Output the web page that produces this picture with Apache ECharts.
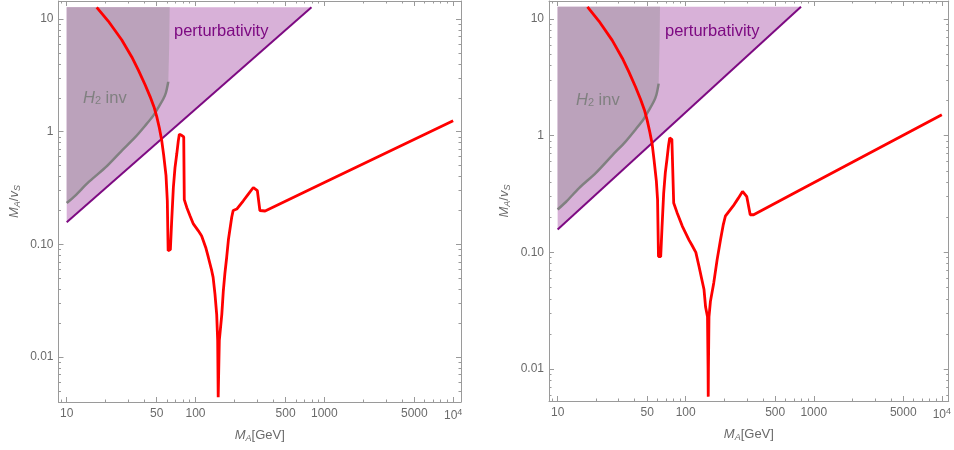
<!DOCTYPE html>
<html>
<head>
<meta charset="utf-8">
<script src="https://cdn.jsdelivr.net/npm/echarts@6/dist/echarts.min.js"></script>
<style>
  html, body { margin: 0; padding: 0; background: #fff; }
  #chart { width: 954px; height: 450px; }
</style>
</head>
<body>
<div id="chart"></div>
<script>
const xMajor = [10, 50, 100, 500, 1000, 5000, 10000];
const xLabels = ['10', '50', '100', '500', '1000', '5000', '{n|10}{sup|4}'];
const xMinor = [9, 20, 30, 40, 60, 70, 80, 90, 200, 300, 400, 600, 700, 800, 900,
  2000, 3000, 4000, 6000, 7000, 8000, 9000];
const yMajor = [0.01, 0.1, 1, 10];
const yLabels = ['0.01', '0.10', '1', '10'];
const yMinor = [0.004, 0.005, 0.006, 0.007, 0.008, 0.009,
  0.02, 0.03, 0.04, 0.05, 0.06, 0.07, 0.08, 0.09,
  0.2, 0.3, 0.4, 0.5, 0.6, 0.7, 0.8, 0.9,
  2, 3, 4, 5, 6, 7, 8, 9];

// perturbativity boundary and top of the shaded areas
const perturbX = [10, 795];
const perturbY = [0.157, 12.7];
const shadeTop = 12.7;

// H2 invisible boundary
const h2X = [10, 11.6, 14.7, 19.9, 26.7, 33.9, 40.6, 47, 51.4, 56.2, 59, 61.5];
const h2Y = [0.233, 0.27, 0.355, 0.48, 0.678, 0.89, 1.13, 1.39, 1.64, 1.95, 2.23, 2.79];
const h2EdgeX = [62.5, 63];
const h2EdgeY = [6, 12.7];

// red curve, left panel
const redLeftX = [17.1, 21, 26.7, 32, 36, 40.6, 44.4, 47.6, 50, 52.4, 54.7, 56.6, 59, 60.4, 61.3,
  63.8, 65.3, 67.3, 69.3, 71.5, 73.5, 74.9, 78, 81, 81.8,
  85.5, 90.6, 96.2, 105.2, 111.6, 115, 120, 125.7, 133.6, 137, 141.6, 146, 148.6, 150,
  153, 160, 164.4, 169, 174.6, 180, 191, 196, 209, 235, 257, 281, 302, 316, 347, 1000, 10000];
const redLeftY = [12.7, 9.6, 6.55, 4.61, 3.52, 2.61, 2.05, 1.66, 1.36, 1.08, 0.83, 0.62, 0.41, 0.244, 0.088,
  0.09, 0.162, 0.32, 0.48, 0.634, 0.83, 0.95, 0.93, 0.9, 0.25,
  0.213, 0.18, 0.152, 0.132, 0.119, 0.108, 0.094, 0.077, 0.0585, 0.051, 0.0363, 0.024, 0.014, 0.0044,
  0.014, 0.024, 0.0388, 0.055, 0.077, 0.11, 0.174, 0.2, 0.206, 0.244, 0.28, 0.32, 0.30, 0.2, 0.198, 0.355, 1.25];

// red curve, right panel
const redRightX = [17.1, 21, 26.7, 32, 36, 40.6, 44.4, 47.6, 50, 52.4, 54.7, 56.6, 59, 60.3, 61.3,
  63.8, 65.3, 67.3, 69.3, 71.5, 73.5, 75, 78, 80.2, 80.6,
  85.5, 94.2, 106, 112, 120, 127, 133, 139, 143, 148, 149.5, 150,
  150.5, 152, 156, 165.6, 176, 187, 196, 204, 235, 257, 278, 300, 319, 339, 755, 10000];
const redRightY = [12.7, 9.6, 6.55, 4.61, 3.52, 2.61, 2.05, 1.66, 1.36, 1.08, 0.85, 0.62, 0.41, 0.283, 0.092,
  0.092, 0.162, 0.32, 0.48, 0.634, 0.83, 0.955, 0.93, 0.9, 0.265,
  0.22, 0.167, 0.128, 0.115, 0.1, 0.076, 0.06, 0.048, 0.034, 0.028, 0.01, 0.0058,
  0.01, 0.028, 0.038, 0.0547, 0.0866, 0.128, 0.17, 0.204, 0.25, 0.29, 0.333, 0.30, 0.21, 0.21, 0.336, 1.51];

// ---- styling ----
const FONT = '"Liberation Sans", Arial, sans-serif';
const frameColor = '#9a9a9a';
const labelColor = '#6a6a6a';
const purpleFill = '#d8b1d8';
const grayFill = '#bba2bb';

const lg = Math.log10;
const pts = (xs, ys) => xs.map((x, i) => [lg(x), lg(ys[i])]);

const panels = [
  { left: 58.5, width: 402.5, top: 1, height: 401, xMin: 0.9363, xMax: 4.061, yMin: -2.398, yMax: 1.16,
    redX: redLeftX, redY: redLeftY },
  { left: 549, width: 403, top: 1, height: 400, xMin: 0.9326, xMax: 4.054, yMin: -2.274, yMax: 1.154,
    redX: redRightX, redY: redRightY }
];

const xMajorLog = xMajor.map(lg);
const yMajorLog = yMajor.map(lg);
const pick = (logs, labels) => (v) => {
  const i = logs.findIndex((l) => Math.abs(l - v) < 1e-6);
  return i < 0 ? '' : labels[i];
};

const grids = [];
const xAxes = [];
const yAxes = [];
const series = [];

function tickAxis(base, position, values, len, main) {
  return Object.assign({}, base, {
    position,
    axisLine: { show: main, onZero: false, lineStyle: { color: frameColor, width: 1 } },
    axisTick: { show: true, inside: true, length: len, customValues: values,
      lineStyle: { color: frameColor, width: 1 } },
    axisLabel: { show: false },
    splitLine: { show: false }
  });
}

const nameRich = {
  i: { color: labelColor, fontFamily: FONT, fontSize: 13, fontStyle: 'italic' },
  sub: { color: labelColor, fontFamily: FONT, fontSize: 9, fontStyle: 'italic', verticalAlign: 'bottom', padding: [6, 0, 0, 0] },
  n: { color: labelColor, fontFamily: FONT, fontSize: 13 }
};

panels.forEach((p, g) => {
  grids.push({ left: p.left, top: p.top, width: p.width, height: p.height });
  const xb = { type: 'value', gridIndex: g, min: p.xMin, max: p.xMax };
  const yb = { type: 'value', gridIndex: g, min: p.yMin, max: p.yMax };
  const xi = xAxes.length;
  const yi = yAxes.length;

  const xMain = tickAxis(xb, 'bottom', xMajorLog, 5, true);
  xMain.axisLabel = {
    show: true, customValues: xMajorLog, formatter: pick(xMajorLog, xLabels),
    color: labelColor, fontFamily: FONT, fontSize: 12, margin: 6,
    rich: {
      n: { color: labelColor, fontFamily: FONT, fontSize: 12 },
      sup: { color: labelColor, fontFamily: FONT, fontSize: 9, verticalAlign: 'top', padding: [0, 0, 6, 0] }
    }
  };
  xMain.name = '{i|M}{sub|A}{n|[GeV]}';
  xMain.nameLocation = 'middle';
  xMain.nameGap = 26;
  xMain.nameTextStyle = { rich: nameRich };
  xAxes.push(xMain,
    tickAxis(xb, 'bottom', xMinor.map(lg), 2.5, false),
    tickAxis(xb, 'top', xMajorLog, 5, true),
    tickAxis(xb, 'top', xMinor.map(lg), 2.5, false));

  const yMain = tickAxis(yb, 'left', yMajorLog, 5, true);
  yMain.axisLabel = {
    show: true, customValues: yMajorLog, formatter: pick(yMajorLog, yLabels),
    color: labelColor, fontFamily: FONT, fontSize: 12, margin: 5
  };
  yMain.name = '{i|M}{sub|A}{n|/}{i|v}{sub|S}';
  yMain.nameLocation = 'middle';
  yMain.nameGap = 37;
  yMain.nameRotate = 90;
  yMain.nameTextStyle = { rich: nameRich };
  yAxes.push(yMain,
    tickAxis(yb, 'left', yMinor.map(lg), 2.5, false),
    tickAxis(yb, 'right', yMajorLog, 5, true),
    tickAxis(yb, 'right', yMinor.map(lg), 2.5, false));

  // shaded areas as polygons through the axes
  const purplePoly = pts(perturbX, perturbY).concat([[lg(perturbX[0]), lg(shadeTop)]]);
  const grayPoly = pts(h2X, h2Y).concat(pts(h2EdgeX, h2EdgeY), [[lg(h2X[0]), lg(shadeTop)]]);
  [[purplePoly, purpleFill], [grayPoly, grayFill]].forEach(([poly, color]) => {
    series.push({
      type: 'custom', xAxisIndex: xi, yAxisIndex: yi, silent: true,
      data: [poly[0]],
      renderItem: (params, api) => ({
        type: 'polygon',
        shape: { points: poly.map((v) => api.coord(v)) },
        style: { fill: color }
      })
    });
  });

  const line = (data, color, width, smooth) => ({
    type: 'line', xAxisIndex: xi, yAxisIndex: yi, data, showSymbol: false, silent: true,
    smooth, lineStyle: { color, width }, animation: false
  });
  series.push(line(pts(perturbX, perturbY), '#7d0a82', 2, false));
  series.push(line(pts(h2X, h2Y), '#808080', 2.5, 0.3));
  series.push(line(pts(p.redX, p.redY), '#ff0000', 2.8, false));
});

const textStyle = (fill) => ({ fill, fontFamily: FONT, fontSize: 16.5, verticalAlign: 'middle' });
const graphic = [
  { type: 'text', x: 174, y: 31, z: 100, style: Object.assign(textStyle('#7d0a82'), { text: 'perturbativity' }) },
  { type: 'text', x: 665, y: 31, z: 100, style: Object.assign(textStyle('#7d0a82'), { text: 'perturbativity' }) }
];
[[83, 98], [576, 100]].forEach(([x, y]) => {
  graphic.push({
    type: 'text', x, y, z: 100,
    style: Object.assign(textStyle('#808080'), {
      text: '{i|H}{sub|2}{n| inv}',
      rich: {
        i: { fill: '#808080', fontFamily: FONT, fontSize: 16.5, fontStyle: 'italic' },
        sub: { fill: '#808080', fontFamily: FONT, fontSize: 11, verticalAlign: 'bottom', padding: [6, 0, 0, 0] },
        n: { fill: '#808080', fontFamily: FONT, fontSize: 16.5 }
      }
    })
  });
});

const chart = echarts.init(document.getElementById('chart'));
chart.setOption({
  animation: false,
  backgroundColor: '#fff',
  grid: grids,
  xAxis: xAxes,
  yAxis: yAxes,
  series,
  graphic: { elements: graphic }
});
</script>
</body>
</html>
